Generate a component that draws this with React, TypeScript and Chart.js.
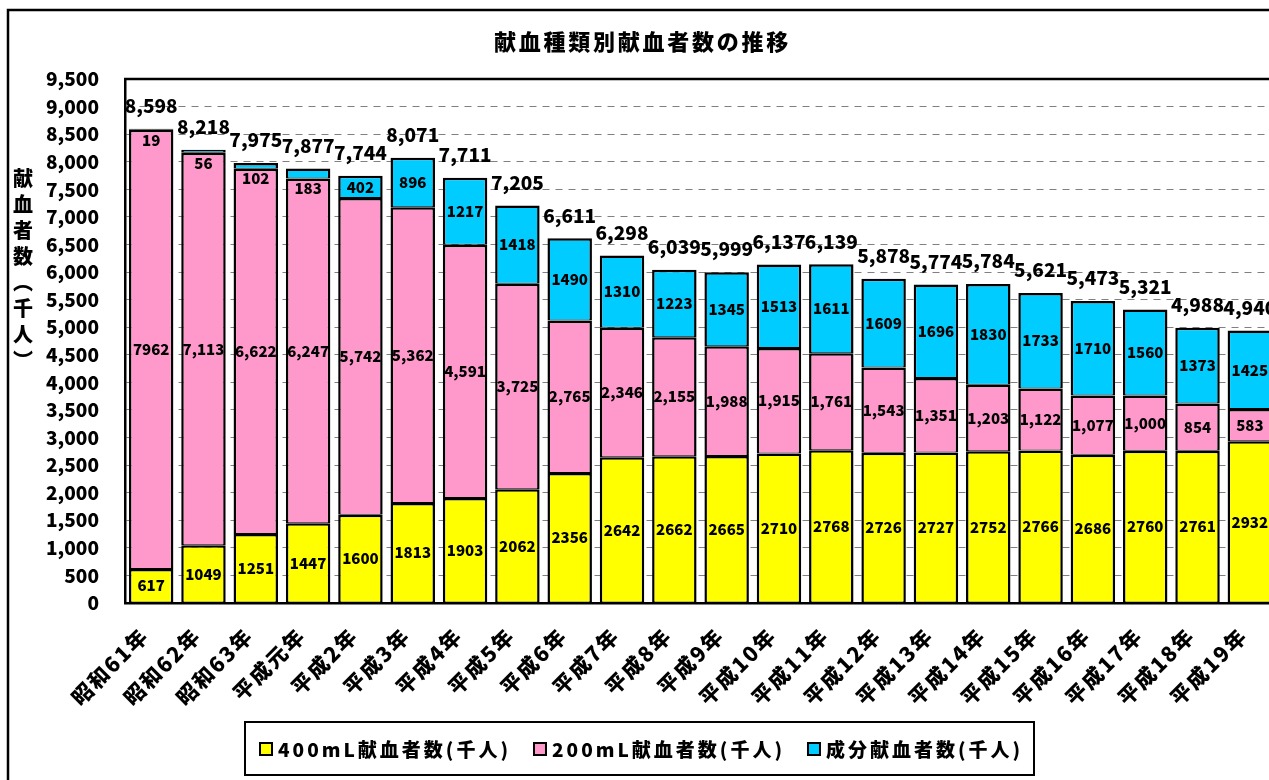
import React, { useEffect, useRef } from 'react';
import { Chart, registerables } from 'chart.js';

Chart.register(...registerables);

const FONT = '"Noto Sans CJK JP", "Noto Sans CJK SC", sans-serif';

const categories = [
  '昭和61年', '昭和62年', '昭和63年', '平成元年', '平成2年', '平成3年', '平成4年', '平成5年',
  '平成6年', '平成7年', '平成8年', '平成9年', '平成10年', '平成11年', '平成12年', '平成13年',
  '平成14年', '平成15年', '平成16年', '平成17年', '平成18年', '平成19年',
];

const donors400 = [617, 1049, 1251, 1447, 1600, 1813, 1903, 2062, 2356, 2642, 2662, 2665, 2710, 2768, 2726, 2727, 2752, 2766, 2686, 2760, 2761, 2932];
const donors200 = [7962, 7113, 6622, 6247, 5742, 5362, 4591, 3725, 2765, 2346, 2155, 1988, 1915, 1761, 1543, 1351, 1203, 1122, 1077, 1000, 854, 583];
const donorsComponent = [19, 56, 102, 183, 402, 896, 1217, 1418, 1490, 1310, 1223, 1345, 1513, 1611, 1609, 1696, 1830, 1733, 1710, 1560, 1373, 1425];
const totals = [8598, 8218, 7975, 7877, 7744, 8071, 7711, 7205, 6611, 6298, 6039, 5999, 6137, 6139, 5878, 5774, 5784, 5621, 5473, 5321, 4988, 4940];

const seriesNames = ['400mL献血者数(千人)', '200mL献血者数(千人)', '成分献血者数(千人)'];
const seriesColors = ['#FFFF00', '#FF99CC', '#00CCFF'];

const title = '献血種類別献血者数の推移';
const yTitleChars = ['献', '血', '者', '数', '︵', '千', '人', '︶'];

const yMin = 0;
const yMax = 9500;
const yStep = 500;

const comma = (v: number) => v.toLocaleString('en-US');
// series label formatting: 400mL and 成分 plain, 200mL with commas (first year plain)
const segmentText = (di: number, i: number, v: number) => {
  if (di === 1 && i > 0) return comma(v);
  return String(v);
};

const decorPlugin = {
  id: 'decor',
  beforeDraw(chart: any) {
    const ctx = chart.ctx;
    ctx.save();
    ctx.fillStyle = '#ffffff';
    ctx.fillRect(0, 0, chart.width, chart.height);
    ctx.restore();
  },
  afterDatasetsDraw(chart: any) {
    const ctx = chart.ctx;
    const ys = chart.scales.y;
    const xs = chart.scales.x;
    ctx.save();
    ctx.fillStyle = '#000';
    ctx.textAlign = 'center';
    ctx.textBaseline = 'middle';
    ctx.font = `900 15px ${FONT}`;
    chart.data.datasets.forEach((ds: any, di: number) => {
      const meta = chart.getDatasetMeta(di);
      meta.data.forEach((el: any, i: number) => {
        const p = el.getProps(['x', 'y', 'base'], true);
        const h = p.base - p.y;
        const cy = h < 22 ? p.base + 10 : (p.y + p.base) / 2;
        ctx.fillText(segmentText(di, i, ds.data[i]), p.x, cy);
      });
    });
    ctx.font = `900 19px ${FONT}`;
    totals.forEach((t, i) => {
      ctx.fillText(comma(t), xs.getPixelForValue(i), ys.getPixelForValue(t) - 23);
    });
    ctx.restore();
  },
  afterDraw(chart: any) {
    const ctx = chart.ctx;
    const area = chart.chartArea;
    const xs = chart.scales.x;
    ctx.save();

    // outer frame
    ctx.strokeStyle = '#000';
    ctx.lineWidth = 2.5;
    ctx.strokeRect(8, 10, chart.width + 50, chart.height + 50);

    // plot area top border
    ctx.lineWidth = 2.5;
    ctx.beginPath();
    ctx.moveTo(area.left - 1, area.top);
    ctx.lineTo(area.right, area.top);
    ctx.stroke();

    ctx.fillStyle = '#000';

    // title
    ctx.font = `900 22px ${FONT}`;
    (ctx as any).letterSpacing = '2.75px';
    ctx.textAlign = 'center';
    ctx.textBaseline = 'middle';
    ctx.fillText(title, 641 + 1.4, 42);

    // y-axis title (vertical)
    (ctx as any).letterSpacing = '0px';
    ctx.font = `900 20px ${FONT}`;
    yTitleChars.forEach((c, i) => {
      ctx.fillText(c, 23, 178 + i * 26.1);
    });

    // x labels rotated
    ctx.font = `900 21px ${FONT}`;
    (ctx as any).letterSpacing = '2px';
    categories.forEach((lab, i) => {
      const x = xs.getPixelForValue(i);
      ctx.save();
      ctx.translate(x - 8, 633);
      ctx.rotate(-Math.PI / 4);
      ctx.textAlign = 'right';
      ctx.textBaseline = 'middle';
      ctx.fillText(lab, 2, 0);
      ctx.restore();
    });

    // legend
    ctx.lineWidth = 2;
    ctx.strokeStyle = '#000';
    ctx.strokeRect(245, 722, 789, 53);
    ctx.font = `900 19px ${FONT}`;
    (ctx as any).letterSpacing = '3px';
    ctx.textAlign = 'left';
    ctx.textBaseline = 'middle';
    let lx = 260;
    chart.data.datasets.forEach((ds: any) => {
      ctx.fillStyle = ds.backgroundColor;
      ctx.fillRect(lx, 743, 12, 12);
      ctx.lineWidth = 2;
      ctx.strokeRect(lx, 743, 12, 12);
      ctx.fillStyle = '#000';
      ctx.fillText(ds.label, lx + 18, 750);
      lx += 18 + ctx.measureText(ds.label).width + 23;
    });

    ctx.restore();
  },
};

export default function App() {
  const ref = useRef<HTMLCanvasElement>(null);

  useEffect(() => {
    const datasets = [donors400, donors200, donorsComponent].map((d, i) => ({
      label: seriesNames[i],
      data: d,
      backgroundColor: seriesColors[i],
      borderColor: '#000',
      borderWidth: { top: 2.5, left: 2.5, right: 2.5, bottom: 1 },
      borderSkipped: false as const,
      barPercentage: 0.85,
      categoryPercentage: 1,
    }));

    const chart = new Chart(ref.current as HTMLCanvasElement, {
      type: 'bar',
      data: { labels: categories, datasets },
      options: {
        responsive: false,
        animation: false,
        layout: { padding: { top: 79, right: 24, left: 0, bottom: 0 } },
        plugins: {
          legend: { display: false },
          title: { display: false },
          tooltip: { enabled: false },
        },
        scales: {
          x: {
            stacked: true,
            grid: { display: false },
            ticks: { display: false },
            border: { display: true, color: '#000', width: 2.5 },
            afterFit: (s: any) => { s.height = 177; },
          },
          y: {
            stacked: true,
            min: yMin,
            max: yMax,
            ticks: {
              stepSize: yStep,
              color: '#000',
              font: { family: FONT, size: 19, weight: '900' },
              padding: 26,
              callback: (v: any) => comma(Number(v)),
            },
            grid: { color: '#808080', lineWidth: 1, drawTicks: false },
            border: { display: true, color: '#000', width: 2.5, dash: [7, 6] },
            afterFit: (s: any) => { s.width = 125; },
          },
        },
      },
      plugins: [decorPlugin],
    } as any);

    return () => chart.destroy();
  }, []);

  return (
    <div style={{ position: 'fixed', left: 0, top: 0, width: 1269, height: 780, overflow: 'hidden', background: '#fff' }}>
      <canvas ref={ref} width={1300} height={780} style={{ display: 'block', width: 1300, height: 780 }} />
    </div>
  );
}
